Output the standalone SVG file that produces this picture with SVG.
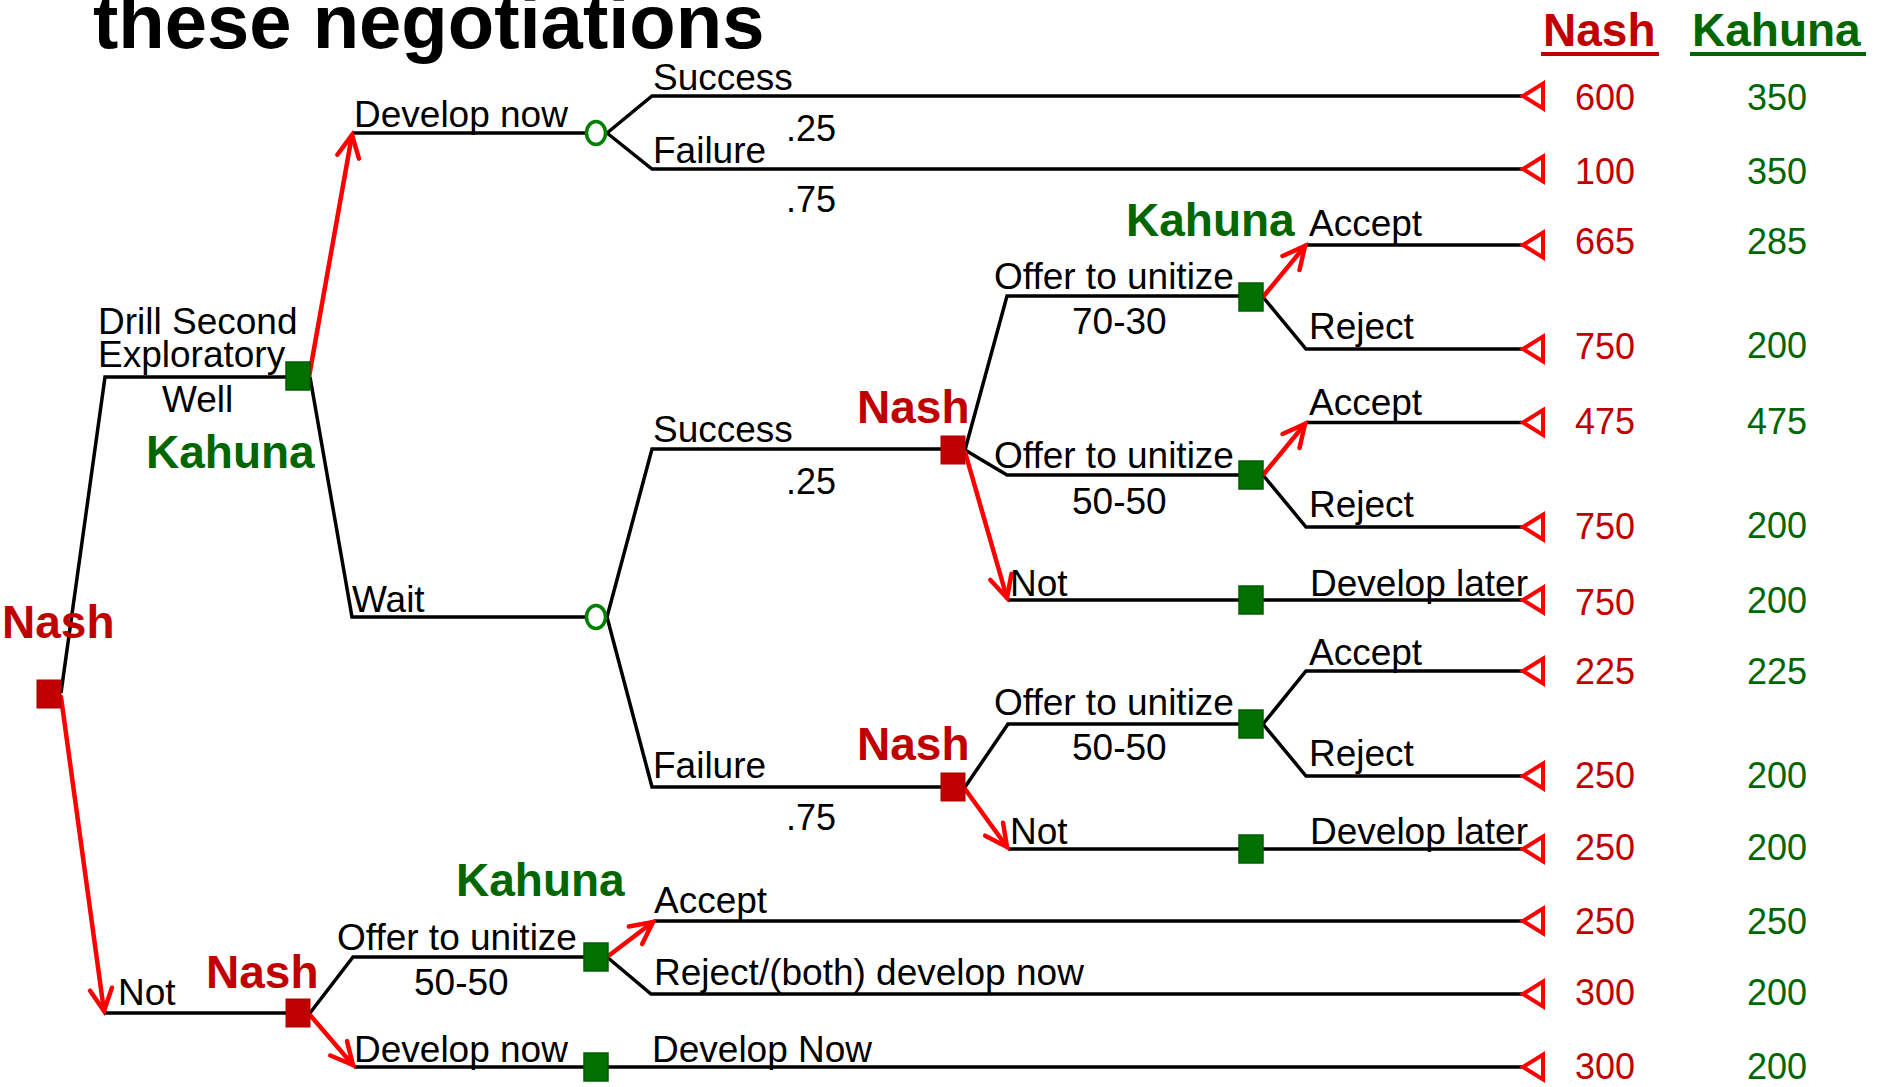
<svg xmlns="http://www.w3.org/2000/svg" width="1878" height="1087" viewBox="0 0 1878 1087">
  <defs>
    <style>
      text { font-family: "Liberation Sans", Arial, sans-serif; }
      .lbl { font-size: 37px; fill: #000; }
      .prob { font-size: 36px; fill: #000; }
      .nash { font-size: 46px; font-weight: bold; fill: #c00000; }
      .kah { font-size: 46px; font-weight: bold; fill: #006600; }
      .vn { font-size: 36px; fill: #c00000; }
      .vk { font-size: 36px; fill: #006600; }
      .title { font-size: 76px; font-weight: bold; fill: #000; }
      .edge { fill: none; stroke: #000; stroke-width: 3.5; stroke-linejoin: miter; }
      .pick { fill: none; stroke: #ff0000; stroke-width: 4.5; stroke-linecap: round; marker-end: url(#arrowhead); }
      .dn { fill: #c00000; stroke: #b00000; stroke-width: 1; }
      .dk { fill: #007000; stroke: #005c00; stroke-width: 1.5; }
      .chance { fill: #fff; stroke: #008000; stroke-width: 3.5; }
      .term { fill: none; stroke: #ff0000; stroke-width: 4; stroke-linejoin: miter; }
    </style>
    <marker id="arrowhead" markerUnits="userSpaceOnUse" orient="auto" markerWidth="40" markerHeight="40" refX="0" refY="0" viewBox="-30 -20 40 40" overflow="visible">
      <path d="M-22,-11 L0,0 L-22,11" fill="none" stroke="#ff0000" stroke-width="4.5" stroke-linecap="round" stroke-linejoin="miter"/>
    </marker>
    <polygon id="tri" points="0,0 20,-12.5 20,12.5" class="term"/>
  </defs>

  <rect x="0" y="0" width="1878" height="1087" fill="#fff"/>

  <text class="title" x="93" y="48">these negotiations</text>

  <!-- payoff column headers -->
  <g id="header-nash">
    <text class="nash" x="1543" y="46">Nash</text>
    <rect x="1541" y="52" width="118" height="4" fill="#c00000"/>
  </g>
  <g id="header-kahuna">
    <text class="kah" x="1692" y="46">Kahuna</text>
    <rect x="1690" y="52" width="176" height="4" fill="#006600"/>
  </g>

  <!-- branches -->
  <g id="connectors">
    <path class="edge" d="M61,693 L105,377 L286,377"/>
    <path class="edge" d="M310,377 L352,617 L586,617"/>
    <path class="edge" d="M352,133 L586,133"/>
    <path class="edge" d="M607,133 L652,96 L1522,96"/>
    <path class="edge" d="M607,133 L652,169 L1522,169"/>
    <path class="edge" d="M607,617 L652,449 L941,449"/>
    <path class="edge" d="M607,617 L652,787 L941,787"/>
    <path class="edge" d="M965,450 L1007,296 L1239,296"/>
    <path class="edge" d="M965,450 L1007,475 L1239,475"/>
    <path class="edge" d="M1008,600 L1522,600"/>
    <path class="edge" d="M1306,245 L1522,245"/>
    <path class="edge" d="M1263,297 L1306,349 L1522,349"/>
    <path class="edge" d="M1306,422.5 L1522,422.5"/>
    <path class="edge" d="M1263,475 L1306,527 L1522,527"/>
    <path class="edge" d="M965,787 L1008,724 L1239,724"/>
    <path class="edge" d="M1008,849 L1522,849"/>
    <path class="edge" d="M1263,724 L1306,671 L1522,671"/>
    <path class="edge" d="M1263,724 L1306,776 L1522,776"/>
    <path class="edge" d="M104,1013 L286,1013"/>
    <path class="edge" d="M310,1013 L353,957 L584,957"/>
    <path class="edge" d="M354,1067 L1522,1067"/>
    <path class="edge" d="M654,921 L1522,921"/>
    <path class="edge" d="M607,957 L651,994 L1522,994"/>

    <!-- chosen moves -->
    <path class="pick" d="M309,377 L352,135"/>
    <path class="pick" d="M61,697 L104,1011"/>
    <path class="pick" d="M965,452 L1007,598"/>
    <path class="pick" d="M965,789 L1007,847"/>
    <path class="pick" d="M1263,297 L1305,246"/>
    <path class="pick" d="M1263,475 L1305,424"/>
    <path class="pick" d="M310,1015 L353,1065"/>
    <path class="pick" d="M607,957 L653,922"/>
  </g>

  <!-- decision and chance nodes -->
  <g id="n-root">
    <rect class="dn" x="37" y="680" width="24" height="28"/>
    <text class="nash" x="2" y="638">Nash</text>
  </g>
  <g id="n-drill">
    <rect class="dk" x="286" y="362" width="24" height="28"/>
    <text class="lbl" x="98" y="334">Drill Second</text>
    <text class="lbl" x="98" y="367">Exploratory</text>
    <text class="lbl" x="162" y="412">Well</text>
    <text class="kah" x="146" y="468">Kahuna</text>
  </g>
  <g id="c-now">
    <ellipse class="chance" cx="596" cy="133" rx="9.5" ry="11.5"/>
    <text class="lbl" x="354" y="127">Develop now</text>
    <text class="lbl" x="653" y="90">Success</text>
    <text class="prob" x="786" y="141">.25</text>
    <text class="lbl" x="653" y="163">Failure</text>
    <text class="prob" x="786" y="212">.75</text>
  </g>
  <g id="c-wait">
    <ellipse class="chance" cx="596" cy="617" rx="9.5" ry="11.5"/>
    <text class="lbl" x="352" y="612">Wait</text>
    <text class="lbl" x="653" y="442">Success</text>
    <text class="prob" x="786" y="494">.25</text>
    <text class="lbl" x="653" y="778">Failure</text>
    <text class="prob" x="786" y="830">.75</text>
  </g>
  <g id="n-success">
    <rect class="dn" x="941" y="436" width="24" height="28"/>
    <text class="nash" x="857" y="423">Nash</text>
    <text class="lbl" x="994" y="289">Offer to unitize</text>
    <text class="lbl" x="1072" y="334">70-30</text>
    <text class="lbl" x="994" y="468">Offer to unitize</text>
    <text class="lbl" x="1072" y="514">50-50</text>
    <text class="lbl" x="1010" y="596">Not</text>
  </g>
  <g id="k-7030">
    <rect class="dk" x="1239" y="283" width="24" height="28"/>
    <text class="kah" x="1126" y="236">Kahuna</text>
    <text class="lbl" x="1309" y="236">Accept</text>
    <text class="lbl" x="1309" y="339">Reject</text>
  </g>
  <g id="k-5050a">
    <rect class="dk" x="1239" y="461" width="24" height="28"/>
    <text class="lbl" x="1309" y="415">Accept</text>
    <text class="lbl" x="1309" y="517">Reject</text>
  </g>
  <g id="k-later-a">
    <rect class="dk" x="1239" y="586" width="24" height="28"/>
    <text class="lbl" x="1310" y="596">Develop later</text>
  </g>
  <g id="n-failure">
    <rect class="dn" x="941" y="773" width="24" height="28"/>
    <text class="nash" x="857" y="760">Nash</text>
    <text class="lbl" x="994" y="715">Offer to unitize</text>
    <text class="lbl" x="1072" y="760">50-50</text>
    <text class="lbl" x="1010" y="844">Not</text>
  </g>
  <g id="k-5050b">
    <rect class="dk" x="1239" y="710" width="24" height="28"/>
    <text class="lbl" x="1309" y="665">Accept</text>
    <text class="lbl" x="1309" y="766">Reject</text>
  </g>
  <g id="k-later-b">
    <rect class="dk" x="1239" y="835" width="24" height="28"/>
    <text class="lbl" x="1310" y="844">Develop later</text>
  </g>
  <g id="n-not">
    <rect class="dn" x="286" y="999" width="24" height="28"/>
    <text class="lbl" x="118" y="1005">Not</text>
    <text class="nash" x="206" y="988">Nash</text>
    <text class="lbl" x="337" y="950">Offer to unitize</text>
    <text class="lbl" x="414" y="995">50-50</text>
    <text class="lbl" x="354" y="1062">Develop now</text>
  </g>
  <g id="k-offer">
    <rect class="dk" x="584" y="943" width="24" height="28"/>
    <text class="kah" x="456" y="896">Kahuna</text>
    <text class="lbl" x="654" y="913">Accept</text>
    <text class="lbl" x="654" y="985">Reject/(both) develop now</text>
  </g>
  <g id="k-now">
    <rect class="dk" x="584" y="1053" width="24" height="28"/>
    <text class="lbl" x="652" y="1062">Develop Now</text>
  </g>

  <!-- outcomes: Nash / Kahuna payoffs -->
  <g id="t1"><use href="#tri" x="1523" y="96"/><text class="vn" x="1575" y="110">600</text><text class="vk" x="1747" y="110">350</text></g>
  <g id="t2"><use href="#tri" x="1523" y="169"/><text class="vn" x="1575" y="184">100</text><text class="vk" x="1747" y="184">350</text></g>
  <g id="t3"><use href="#tri" x="1523" y="245"/><text class="vn" x="1575" y="254">665</text><text class="vk" x="1747" y="254">285</text></g>
  <g id="t4"><use href="#tri" x="1523" y="349"/><text class="vn" x="1575" y="359">750</text><text class="vk" x="1747" y="358">200</text></g>
  <g id="t5"><use href="#tri" x="1523" y="422.5"/><text class="vn" x="1575" y="434">475</text><text class="vk" x="1747" y="434">475</text></g>
  <g id="t6"><use href="#tri" x="1523" y="527"/><text class="vn" x="1575" y="539">750</text><text class="vk" x="1747" y="538">200</text></g>
  <g id="t7"><use href="#tri" x="1523" y="600"/><text class="vn" x="1575" y="615">750</text><text class="vk" x="1747" y="613">200</text></g>
  <g id="t8"><use href="#tri" x="1523" y="671"/><text class="vn" x="1575" y="684">225</text><text class="vk" x="1747" y="684">225</text></g>
  <g id="t9"><use href="#tri" x="1523" y="776"/><text class="vn" x="1575" y="788">250</text><text class="vk" x="1747" y="788">200</text></g>
  <g id="t10"><use href="#tri" x="1523" y="849"/><text class="vn" x="1575" y="860">250</text><text class="vk" x="1747" y="860">200</text></g>
  <g id="t11"><use href="#tri" x="1523" y="921"/><text class="vn" x="1575" y="934">250</text><text class="vk" x="1747" y="934">250</text></g>
  <g id="t12"><use href="#tri" x="1523" y="994"/><text class="vn" x="1575" y="1005">300</text><text class="vk" x="1747" y="1005">200</text></g>
  <g id="t13"><use href="#tri" x="1523" y="1067"/><text class="vn" x="1575" y="1079">300</text><text class="vk" x="1747" y="1079">200</text></g>
</svg>
